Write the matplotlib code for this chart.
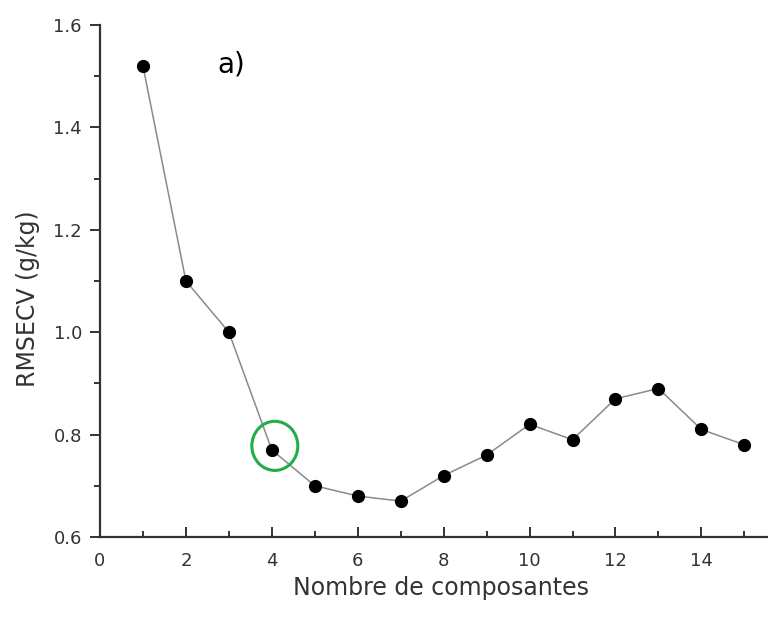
import matplotlib
matplotlib.use("Agg")
import matplotlib.pyplot as plt
from matplotlib.patches import Ellipse
from matplotlib.ticker import MultipleLocator

plt.rcParams['font.family'] = ['DejaVu Sans']

components = [1, 2, 3, 4, 5, 6, 7, 8, 9, 10, 11, 12, 13, 14, 15]
rmsecv = [1.52, 1.10, 1.00, 0.77, 0.70, 0.68, 0.67, 0.72, 0.76, 0.82, 0.79, 0.87, 0.89, 0.81, 0.78]
xticks = [0, 2, 4, 6, 8, 10, 12, 14]
yticks = [0.6, 0.8, 1.0, 1.2, 1.4, 1.6]

fig = plt.figure(figsize=(7.68, 6.2), dpi=100)
ax = fig.add_axes([0.1302, 0.1339, 0.8698, 0.8258])

ax.plot(components, rmsecv, color='#8a8a8a', lw=1.1, zorder=2)
ax.plot(components, rmsecv, 'o', color='black', markersize=8.5, zorder=3)

ax.add_patch(Ellipse((4.07, 0.778), 1.07, 0.096, fill=False,
                     edgecolor='#1fae48', lw=2.2, zorder=4))

ax.text(3.05, 1.522, 'a)', fontsize=20, color='black', ha='center', va='center')

ax.set_xlim(0, 15.55)
ax.set_ylim(0.6, 1.6)
ax.set_xticks(xticks)
ax.set_yticks(yticks)
ax.set_yticklabels([f"{v:.1f}" for v in yticks])
ax.xaxis.set_minor_locator(MultipleLocator(1))
ax.yaxis.set_minor_locator(MultipleLocator(0.1))

for s in ['top', 'right']:
    ax.spines[s].set_visible(False)
for s in ['left', 'bottom']:
    ax.spines[s].set_color('#333333')
    ax.spines[s].set_linewidth(1.6)

ax.tick_params(axis='x', which='major', direction='in', length=7, width=1.4,
               colors='#333333', labelsize=13, pad=11, labelcolor='#333333')
ax.tick_params(axis='x', which='minor', direction='in', length=4, width=1.4, colors='#333333')
ax.tick_params(axis='y', which='major', direction='out', length=7, width=1.4,
               colors='#333333', labelsize=13, pad=6, labelcolor='#333333')
ax.tick_params(axis='y', which='minor', direction='out', length=4, width=1.4, colors='#333333')

ax.set_xlabel('Nombre de composantes', fontsize=17, color='#333333', va='center')
ax.xaxis.set_label_coords(0.51, -0.10)
ax.set_ylabel('RMSECV (g/kg)', fontsize=17, color='#333333', va='center')
ax.yaxis.set_label_coords(-0.108, 0.465)

fig.savefig('out.png', dpi=100)
